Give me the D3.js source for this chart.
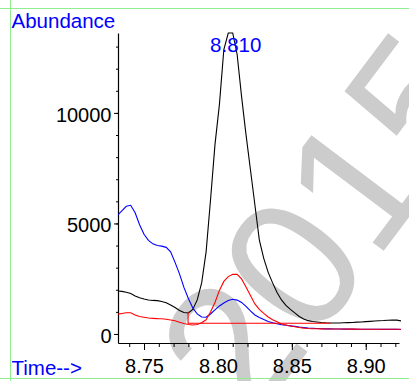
<!DOCTYPE html>
<html>
<head>
<meta charset="utf-8">
<script src="https://cdn.jsdelivr.net/npm/d3@7.8.5/dist/d3.min.js"></script>
<style>
  body { margin: 0; background: #fff; }
  svg { display: block; font-family: "Liberation Sans", Arial, sans-serif; }
</style>
</head>
<body>
<div id="chart"></div>
<script>
// scan times (min)
const times = [8.732, 8.735, 8.738, 8.741, 8.744, 8.747, 8.750, 8.753, 8.756, 8.759,
  8.762, 8.765, 8.768, 8.771, 8.774, 8.777, 8.780, 8.783, 8.786, 8.789,
  8.792, 8.795, 8.798, 8.801, 8.804, 8.807, 8.810, 8.813, 8.816, 8.819,
  8.822, 8.825, 8.828, 8.831, 8.834, 8.837, 8.840, 8.843, 8.846, 8.849,
  8.852, 8.855, 8.858, 8.861, 8.864, 8.867, 8.870, 8.873, 8.876, 8.879,
  8.882, 8.885, 8.888, 8.891, 8.894, 8.897, 8.900, 8.903, 8.906, 8.909,
  8.912, 8.915, 8.918, 8.921, 8.924];

// abundance traces
const blackTrace = [1948, 1926, 1885, 1835, 1722, 1640, 1586, 1540, 1518, 1509,
  1473, 1414, 1314, 1201, 1065, 974, 952, 1110, 1541, 2311,
  3715, 6072, 8564, 10376, 12868, 13615, 13615, 12642, 10739, 9016,
  7431, 5845, 4259, 3421, 2787, 2311, 1880, 1541, 1291, 1110,
  952, 793, 680, 603, 566, 544, 521, 507, 498, 498,
  498, 507, 512, 521, 535, 544, 557, 571, 589, 598,
  607, 621, 634, 625, 589];

const blueTrace = [5369, 5573, 5777, 5822, 5482, 4939, 4508, 4237, 4078, 4001,
  3974, 3919, 3715, 3240, 2719, 2107, 1609, 1178, 906, 770,
  757, 906, 1087, 1269, 1405, 1518, 1572, 1532, 1427, 1246,
  1042, 861, 748, 657, 566, 512, 462, 421, 394, 367,
  344, 317, 295, 272, 258, 245, 236, 233, 229, 226,
  224, 221, 220, 218, 216, 215, 214, 212, 211, 211,
  209, 208, 207, 207, 206];

const redTrace = [893, 929, 961, 961, 861, 793, 757, 725, 707, 693,
  689, 666, 634, 598, 535, 471, 426, 408, 430, 507,
  643, 997, 1427, 1971, 2379, 2596, 2705, 2696, 2492, 2130,
  1744, 1359, 1110, 929, 770, 643, 553, 453, 408, 362,
  326, 290, 263, 249, 240, 236, 231, 228, 226, 224,
  223, 222, 220, 219, 218, 217, 216, 215, 214, 214,
  213, 212, 212, 211, 211];

// integration baseline of the red trace
const baseTimes = [8.7798, 8.876];
const baseLevel = 485;
const baseMark = 1000;

const peakTime = 8.810;
const peakLabel = '8.810';

const xMajor = [8.75, 8.80, 8.85, 8.90];
const xMinor = [8.74, 8.75, 8.76, 8.77, 8.78, 8.79, 8.80, 8.81, 8.82, 8.83, 8.84, 8.85, 8.86, 8.87, 8.88, 8.89, 8.90, 8.91, 8.92];
const yMajor = [0, 5000, 10000];
const yMinor = [0, 1000, 2000, 3000, 4000, 5000, 6000, 7000, 8000, 9000, 10000, 11000, 12000, 13000];

const width = 409;
const height = 381;
const plot = { left: 118, right: 399, top: 33, bottom: 343 };

const svg = d3.select('#chart').append('svg')
    .attr('width', width)
    .attr('height', height);

// watermark
svg.append('text')
    .attr('transform', 'translate(322,222) rotate(-53)')
    .attr('text-anchor', 'middle')
    .attr('dy', '0.36em')
    .style('font-size', '185px')
    .style('fill', '#cccccc')
    .text('2015');

// green frame
const frame = svg.append('g').attr('stroke', '#90ee90').attr('stroke-width', 1);
frame.append('line').attr('x1', 0).attr('x2', width).attr('y1', 8.5).attr('y2', 8.5);
frame.append('line').attr('x1', 10.5).attr('x2', 10.5).attr('y1', 0).attr('y2', height);
frame.append('line').attr('x1', 0).attr('x2', width).attr('y1', 378.5).attr('y2', 378.5);

const x = d3.scaleLinear()
    .domain([8.7324, 8.9225])
    .range([plot.left, plot.right]);

const y = d3.scaleLinear()
    .domain([-408, d3.max(blackTrace)])
    .range([plot.bottom, plot.top]);

// axes: minor ticks first, then major ticks with labels
svg.append('g')
    .attr('transform', `translate(0,${plot.bottom})`)
    .call(d3.axisBottom(x).tickValues(xMinor).tickSize(4).tickSizeOuter(0).tickFormat(''))
    .call(g => g.select('.domain').remove());

svg.append('g')
    .attr('transform', `translate(0,${plot.bottom})`)
    .call(d3.axisBottom(x).tickValues(xMajor).tickSize(7).tickSizeOuter(0).tickPadding(9).tickFormat(d3.format('.2f')))
    .call(g => g.selectAll('text').style('font-size', '20px').style('fill', '#000').attr('dy', '0.71em'));

svg.append('g')
    .attr('transform', `translate(${plot.left},0)`)
    .call(d3.axisLeft(y).tickValues(yMinor).tickSize(2).tickSizeOuter(0).tickFormat(''))
    .call(g => g.select('.domain').remove());

svg.append('g')
    .attr('transform', `translate(${plot.left},0)`)
    .call(d3.axisLeft(y).tickValues(yMajor).tickSize(4).tickSizeOuter(0).tickPadding(2.5).tickFormat(d3.format('d')))
    .call(g => g.selectAll('text').style('font-size', '20px').style('fill', '#000').attr('dy', '0.42em'));

svg.selectAll('.domain').attr('stroke', '#000').attr('stroke-width', 1.2);

// traces
const line = d3.line()
    .x((d, i) => x(times[i]))
    .y(d => y(d));

const traces = [
    { values: blackTrace, color: '#000000' },
    { values: blueTrace, color: '#0000ff' },
    { values: redTrace, color: '#ff0000' }
];

svg.append('clipPath').attr('id', 'clip')
    .append('rect')
    .attr('x', plot.left).attr('y', 0)
    .attr('width', plot.right - plot.left + 2).attr('height', plot.bottom);

const lines = svg.append('g').attr('clip-path', 'url(#clip)');

lines.selectAll('path.trace')
    .data(traces)
    .enter()
    .append('path')
    .attr('class', 'trace')
    .attr('fill', 'none')
    .attr('stroke', d => d.color)
    .attr('stroke-width', 1.1)
    .attr('d', d => line(d.values));

// baseline marker
lines.append('path')
    .attr('fill', 'none')
    .attr('stroke', '#ff0000')
    .attr('stroke-width', 1.1)
    .attr('d', `M${x(baseTimes[0])},${y(baseMark)}V${y(baseLevel)}H${x(baseTimes[1])}`);

// labels
svg.append('text')
    .attr('x', x(peakTime) + 3)
    .attr('y', 52)
    .attr('text-anchor', 'middle')
    .style('font-size', '20.5px')
    .style('fill', '#0000ff')
    .text(peakLabel);

svg.append('text')
    .attr('x', 11.5)
    .attr('y', 28.3)
    .style('font-size', '20.5px')
    .style('fill', '#0000ff')
    .text('Abundance');

svg.append('text')
    .attr('x', 11.5)
    .attr('y', 375)
    .style('font-size', '20.5px')
    .style('fill', '#0000ff')
    .text('Time-->');
</script>
</body>
</html>
